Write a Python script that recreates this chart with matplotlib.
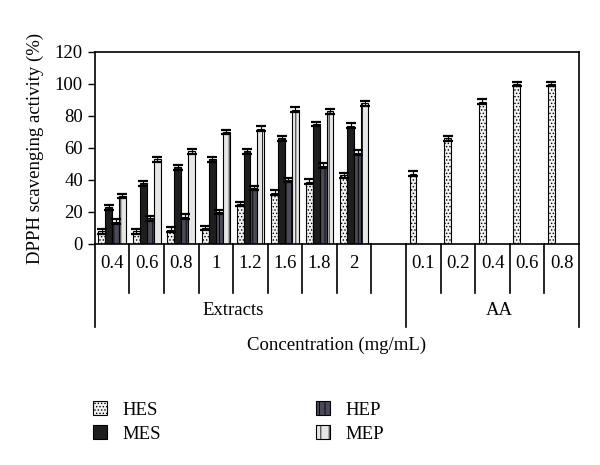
import matplotlib.pyplot as plt
import numpy as np

plt.rcParams['font.family'] = ['Liberation Serif', 'DejaVu Serif']
plt.rcParams['hatch.linewidth'] = 0.6

# extract concentrations (mg/mL) and AA concentrations
ext_labels = ['0.4', '0.6', '0.8', '1', '1.2', '1.6', '1.8', '2']
aa_labels = ['0.1', '0.2', '0.4', '0.6', '0.8']

hes = [8, 8, 9, 10, 25, 32, 39, 43]
mes = [23, 38, 48, 53, 58, 66, 75, 74]
hep = [14, 16, 17, 20, 35, 40, 49, 57]
mep = [30, 53, 58, 70, 72, 84, 83, 88]
aa = [44, 66, 89, 100, 100]
err = 1.5

fs = 13.5
fig = plt.figure(figsize=(6, 4.65), dpi=100)
ax = fig.add_axes([0.158, 0.4753, 0.807, 0.413])

n_ext = len(ext_labels)
x_ext = np.arange(n_ext) + 0.5
x_aa = np.arange(len(aa_labels)) + n_ext + 1.5
w = 0.2

ekw = dict(ecolor='black', elinewidth=0.8, capsize=3.5, capthick=1.6)
b1 = ax.bar(x_ext - 1.5 * w, hes, w, yerr=err, color='#f2f2f2', edgecolor='black',
            hatch='.....', linewidth=0.8, error_kw=ekw, label='HES')
b2 = ax.bar(x_ext - 0.5 * w, mes, w, yerr=err, color='#1e1e1e', edgecolor='black',
            linewidth=0.8, error_kw=ekw, label='MES')
b3 = ax.bar(x_ext + 0.5 * w, hep, w, yerr=err, color='#4b4958', edgecolor='black',
            hatch='|||', linewidth=0.8, error_kw=ekw, label='HEP')
b4 = ax.bar(x_ext + 1.5 * w, mep, w, yerr=err, color='#e6e6e6', edgecolor='black',
            hatch='||', linewidth=0.8, error_kw=ekw, label='MEP')
ax.bar(x_aa - 1.5 * w, aa, w, yerr=err, color='#f2f2f2', edgecolor='black',
       hatch='.....', linewidth=0.8, error_kw=ekw)

ax.set_xlim(0, n_ext + 1 + len(aa_labels))
ax.set_ylim(0, 120)
ax.set_yticks(range(0, 121, 20))
ax.tick_params(axis='y', labelsize=fs, direction='out', length=5, width=1)
ax.set_xticks([])
for s in ax.spines.values():
    s.set_linewidth(1.2)
ax.set_ylabel('DPPH scavenging activity (%)', fontsize=fs, labelpad=8)

# two-level category axis drawn below the plot
tr = ax.get_xaxis_transform()
long_sep = [0, n_ext + 1, n_ext + 1 + len(aa_labels)]
for xs in range(0, n_ext + 2 + len(aa_labels)):
    y0 = -0.432 if xs in long_sep else -0.255
    ax.plot([xs, xs], [0, y0], transform=tr, color='black', lw=1.2, clip_on=False)
for xc, lab in zip(x_ext, ext_labels):
    ax.text(xc, -0.1, lab, transform=tr, ha='center', va='center', fontsize=fs)
for xc, lab in zip(x_aa, aa_labels):
    ax.text(xc, -0.1, lab, transform=tr, ha='center', va='center', fontsize=fs)
ax.text(n_ext / 2, -0.345, 'Extracts', transform=tr, ha='center', va='center', fontsize=fs)
ax.text(n_ext + 1 + len(aa_labels) / 2 + 0.2, -0.345, 'AA', transform=tr,
        ha='center', va='center', fontsize=fs)
ax.text(7.0, -0.53, 'Concentration (mg/mL)', transform=tr, ha='center', va='center',
        fontsize=fs)

fig.legend(handles=[b1, b2, b3, b4], loc='upper left', bbox_to_anchor=(0.127, 0.173),
           ncol=2, frameon=False, fontsize=fs, handlelength=0.75, handleheight=0.75,
           handletextpad=0.8, columnspacing=8.3, labelspacing=0.35)

fig.savefig('out.png', dpi=100)
